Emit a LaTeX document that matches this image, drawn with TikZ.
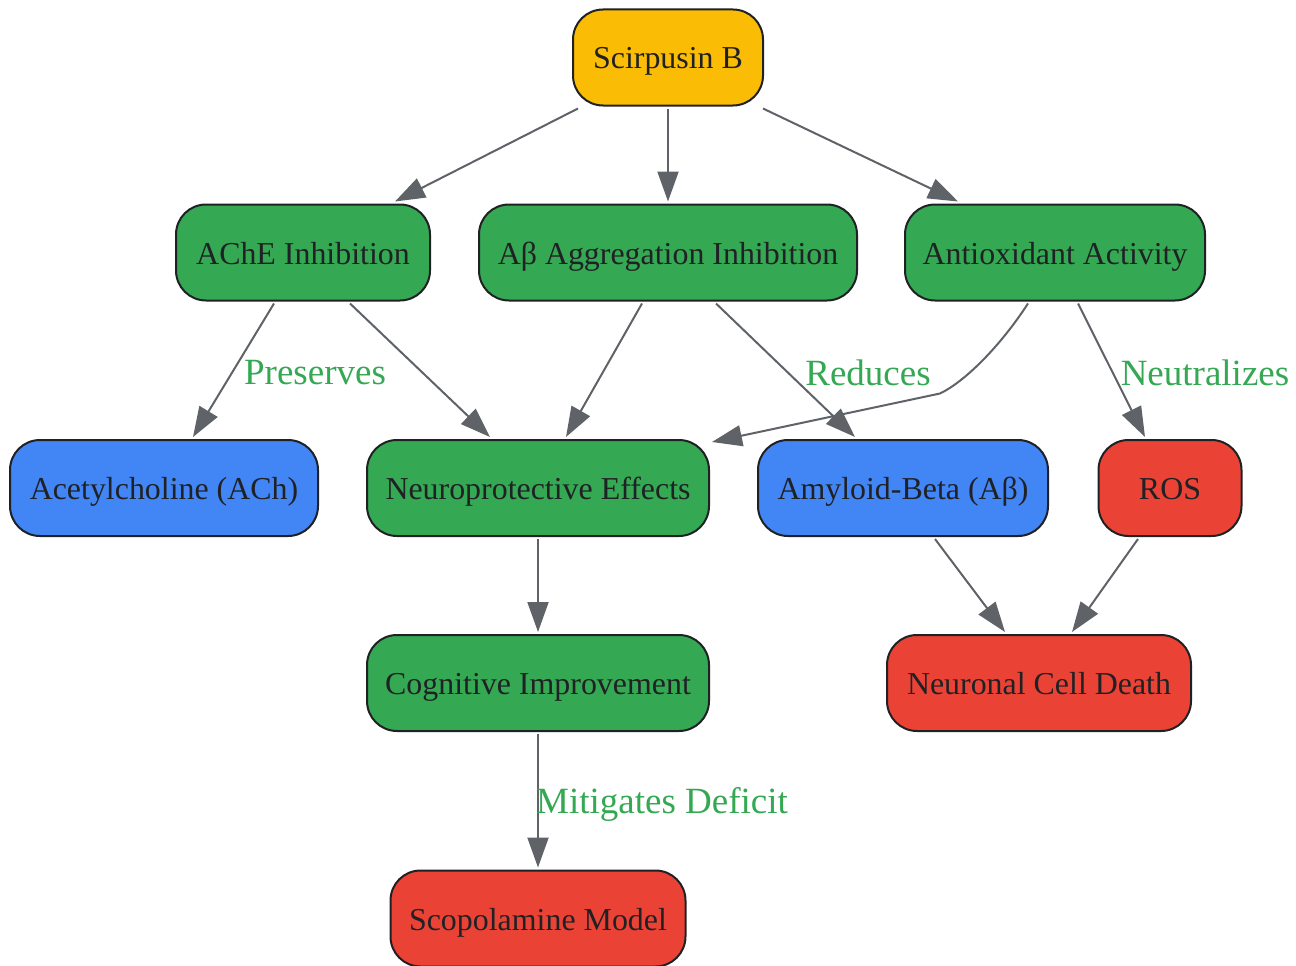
\documentclass[tikz,border=0pt]{standalone}
\usepackage{fontspec}
\setmainfont{Liberation Serif}
\usetikzlibrary{arrows.meta,calc}
\definecolor{gyellow}{HTML}{FBBC05}
\definecolor{ggreen}{HTML}{34A853}
\definecolor{gblue}{HTML}{4285F4}
\definecolor{gred}{HTML}{EA4335}
\definecolor{edgegray}{HTML}{5F6368}
\definecolor{inkdark}{HTML}{202124}
\tikzset{
  box/.style={draw=inkdark, line width=2pt, rounded corners=30pt, inner sep=0pt,
    minimum height=96pt, text=inkdark, font=\fontsize{31.9}{38}\selectfont,
    text height=28pt, text depth=5pt},
  ybox/.style={box, fill=gyellow},
  gbox/.style={box, fill=ggreen},
  bbox/.style={box, fill=gblue},
  rbox/.style={box, fill=gred},
  conn/.style={draw=edgegray, line width=2pt, -{Triangle[length=30pt,width=21pt]}},
  elabel/.style={text=ggreen, font=\fontsize{37}{44}\selectfont, inner sep=0pt},
}
\begin{document}
\begin{tikzpicture}[x=1pt,y=-1pt]
\useasboundingbox (0,0) rectangle (1296,966);
\node[ybox, minimum width=190pt] (sb) at (668,57.5) {Scirpusin B};
\node[gbox, minimum width=254pt] (ache) at (303,252.5) {AChE Inhibition};
\node[gbox, minimum width=378pt] (abagg) at (668,252.5) {Aβ Aggregation Inhibition};
\node[gbox, minimum width=300pt] (anti) at (1055,252.5) {Antioxidant Activity};
\node[bbox, minimum width=308pt] (ach) at (164,488) {Acetylcholine (ACh)};
\node[gbox, minimum width=342pt] (neuro) at (538,488) {Neuroprotective Effects};
\node[bbox, minimum width=290pt] (amyl) at (903,488) {Amyloid-Beta (Aβ)};
\node[rbox, minimum width=143pt] (ros) at (1170,488) {ROS};
\node[gbox, minimum width=342pt] (cog) at (538,683) {Cognitive Improvement};
\node[rbox, minimum width=304pt] (ncd) at (1039,683) {Neuronal Cell Death};
\node[rbox, minimum width=295pt] (scop) at (538,918.5) {Scopolamine Model};

\draw[conn] ($(sb.south)+(-90,2)$) -- ($(ache.north)+(92,-2)$);
\draw[conn] ($(sb.south)+(0,2)$) -- ($(abagg.north)+(0,-2)$);
\draw[conn] ($(sb.south)+(95,2)$) -- ($(anti.north)+(-97,-2)$);
\draw[conn] ($(ache.south)+(-29,2)$) -- ($(ach.north)+(29,-2)$);
\draw[conn] ($(ache.south)+(47,2)$) -- ($(neuro.north)+(-48,-2)$);
\draw[conn] ($(abagg.south)+(-26,2)$) -- ($(neuro.north)+(28,-2)$);
\draw[conn] ($(abagg.south)+(48,2)$) -- ($(amyl.north)+(-48,-2)$);
\draw[conn] ($(anti.south)+(-27,2)$) .. controls ($(anti.south)+(-55,45)$) and ($(anti.south)+(-90,80)$) .. ($(anti.south)+(-115,92)$) -- ($(neuro.north east)+(2,3)$);
\draw[conn] ($(anti.south)+(23,2)$) -- ($(ros.north)+(-25,-2)$);
\draw[conn] ($(amyl.south)+(32,2)$) -- ($(ncd.north)+(-34,-2)$);
\draw[conn] ($(ros.south)+(-32,2)$) -- ($(ncd.north)+(33,-2)$);
\draw[conn] ($(neuro.south)+(0,2)$) -- ($(cog.north)+(0,-2)$);
\draw[conn] ($(cog.south)+(0,2)$) -- ($(scop.north)+(0,-2)$);

\node[elabel] (lpres) at (315,373) {Preserves};
\node[elabel] (lred) at (868,373) {Reduces};
\node[elabel] (lneu) at (1205,373) {Neutralizes};
\node[elabel] (lmit) at (662,804) {Mitigates Deficit};
\end{tikzpicture}
\end{document}
